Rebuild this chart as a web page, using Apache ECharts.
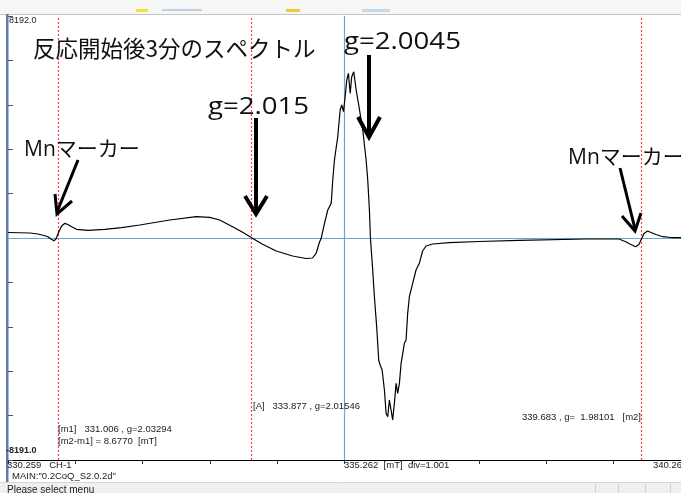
<!DOCTYPE html>
<html>
<head>
<meta charset="utf-8">
<script src="https://cdn.jsdelivr.net/npm/echarts/dist/echarts.min.js"></script>
<style>
html,body{margin:0;padding:0;background:#fff;}
#c{width:681px;height:493px;}
</style>
</head>
<body>
<div id="c"></div>
<script>
// Magnetic field (mT)
const field = [330.259, 330.586, 330.704, 330.793, 330.853, 330.897, 330.942, 330.972, 331.006, 331.056, 331.105, 331.150, 331.205, 331.279, 331.447, 331.699, 331.947, 332.219, 332.664, 333.060, 333.258, 333.406, 333.599, 333.748, 333.881, 334.045, 334.248, 334.490, 334.693, 334.787, 334.842, 334.891, 334.916, 334.965, 335.014, 335.065, 335.088, 335.113, 335.139, 335.162, 335.198, 335.222, 335.247, 335.272, 335.296, 335.321, 335.347, 335.370, 335.400, 335.436, 335.474, 335.534, 335.584, 335.608, 335.633, 335.648, 335.682, 335.707, 335.741, 335.771, 335.792, 335.822, 335.856, 335.881, 335.905, 335.930, 335.955, 335.979, 336.004, 336.030, 336.053, 336.079, 336.104, 336.153, 336.178, 336.202, 336.227, 336.276, 336.326, 336.375, 336.424, 336.475, 336.573, 336.821, 337.266, 337.860, 338.850, 339.344, 339.444, 339.508, 339.592, 339.641, 339.681, 339.716, 339.768, 339.820, 339.894, 339.998, 340.117, 340.266];
// ESR signal intensity
const intensity = [203, 185, 148, 92, 48, -37, -100, -37, 173, 443, 542, 498, 417, 321, 284, 321, 380, 480, 664, 786, 764, 664, 417, 210, 11, -232, -480, -664, -756, -738, -554, -148, -11, 542, 1033, 1280, 2140, 2878, 2941, 3738, 4723, 4908, 4660, 5214, 5830, 6077, 5339, 5952, 6136, 5461, 4908, 3985, 2878, 2140, 1033, 0, -1181, -2166, -3273, -4502, -4686, -4871, -5609, -6469, -6594, -5978, -6347, -6716, -6100, -5362, -5731, -5362, -4624, -3886, -3764, -2779, -2166, -1672, -1181, -934, -480, -295, -221, -173, -129, -85, -37, -37, -137, -221, -321, -240, -18, 166, 258, 203, 129, 48, 18, 11];
// Markers (mT)
const markerFields = [331.006, 333.877, 339.683];
const centerField = 335.262;
const fieldRange = [330.259, 340.266];
const intensityRange = [-8191, 8192];
const divisions = 10;

const chart = echarts.init(document.getElementById('c'), null, {renderer: 'canvas'});
const small = '9.5px "Liberation Sans", Arial, sans-serif';
function txt(x, y, s, font, extra) {
  return {
    type: 'text', x: x, y: y, silent: true, z: 100,
    style: Object.assign({text: s, font: font, fill: '#222', textAlign: 'left', align: 'left', textVerticalAlign: 'middle', verticalAlign: 'middle'}, extra || {})
  };
}
function arrow(shaft, head, w) {
  return [
    {type: 'polyline', silent: true, z: 100, shape: {points: shaft}, style: {stroke: '#000', lineWidth: w, fill: null}},
    {type: 'polyline', silent: true, z: 100, shape: {points: head}, style: {stroke: '#000', lineWidth: w, fill: null, lineJoin: 'miter'}}
  ];
}
const bigFont = '24px "Open Sans", "Noto Sans", sans-serif';
const mnFont = '21px "Open Sans", "Noto Sans CJK JP", sans-serif';

const graphics = [
  {type: 'rect', shape: {x: 0, y: 0, width: 681, height: 14}, style: {fill: '#f6f6f6'}, silent: true},
  {type: 'line', shape: {x1: 0, y1: 14.5, x2: 681, y2: 14.5}, style: {stroke: '#c4c4c4', lineWidth: 1}, silent: true},
  {type: 'rect', shape: {x: 136, y: 9, width: 12, height: 3}, style: {fill: '#f2e23a'}, silent: true},
  {type: 'rect', shape: {x: 286, y: 9, width: 14, height: 3}, style: {fill: '#f6c640'}, silent: true},
  {type: 'rect', shape: {x: 162, y: 9, width: 40, height: 2}, style: {fill: '#bcd0e6'}, silent: true},
  {type: 'rect', shape: {x: 362, y: 9, width: 28, height: 3}, style: {fill: '#c4d8ee'}, silent: true},
  {type: 'rect', shape: {x: 6, y: 14, width: 2.5, height: 468}, style: {fill: '#5b7fa8'}, silent: true},
  {type: 'rect', shape: {x: 0, y: 482, width: 681, height: 11}, style: {fill: '#f0f0f0'}, silent: true},
  {type: 'line', shape: {x1: 0, y1: 482.5, x2: 681, y2: 482.5}, style: {stroke: '#d6d6d6', lineWidth: 1}, silent: true},
  {type: 'line', shape: {x1: 595.5, y1: 484, x2: 595.5, y2: 493}, style: {stroke: '#cfcfcf', lineWidth: 1}, silent: true},
  {type: 'line', shape: {x1: 618.5, y1: 484, x2: 618.5, y2: 493}, style: {stroke: '#cfcfcf', lineWidth: 1}, silent: true},
  {type: 'line', shape: {x1: 645.5, y1: 484, x2: 645.5, y2: 493}, style: {stroke: '#cfcfcf', lineWidth: 1}, silent: true},
  {type: 'line', shape: {x1: 670.5, y1: 484, x2: 670.5, y2: 493}, style: {stroke: '#cfcfcf', lineWidth: 1}, silent: true},
  txt(9, 21, '8192.0', '9px "Liberation Sans", Arial, sans-serif'),
  txt(6, 451, '-8191.0', 'bold 9px "Liberation Sans", Arial, sans-serif'),
  txt(7, 465, '330.259   CH-1', small),
  txt(12, 476, 'MAIN:"0.2CoQ_S2.0.2d"', small),
  txt(344, 465, '335.262  [mT]  div=1.001', small),
  txt(653, 465, '340.266', small),
  txt(7, 490, 'Please select menu', '10px "Liberation Sans", Arial, sans-serif'),
  txt(58, 429, '[m1]   331.006 , g=2.03294', small),
  txt(58, 441, '[m2-m1] = 8.6770  [mT]', small),
  txt(253, 406, '[A]   333.877 , g=2.01546', small),
  txt(641, 417, '339.683 , g=  1.98101   [m2]', small, {textAlign: 'right', align: 'right'}),
  txt(33, 48, '反応開始後3分のスペクトル', '22.5px "Noto Sans CJK JP", sans-serif', {fill: '#111'}),
  Object.assign(txt(208, 107, 'g=2.015', bigFont, {fill: '#111'}), {scaleX: 1.15}),
  Object.assign(txt(344, 42, 'g=2.0045', bigFont, {fill: '#111'}), {scaleX: 1.15}),
  txt(24, 150, 'Mnマーカー', mnFont, {fill: '#111'}),
  txt(568, 158, 'Mnマーカー', mnFont, {fill: '#111'})
].concat(
  arrow([[78, 160], [57, 212]], [[55, 194], [57, 214], [72, 201]], 3),
  arrow([[256, 118], [256, 212]], [[245, 196], [256, 214], [267, 196]], 4),
  arrow([[369, 55], [369, 135]], [[358, 117], [369, 137], [380, 117]], 4),
  arrow([[620, 168], [635, 229]], [[622, 216], [635, 231], [641, 213]], 3)
);

chart.setOption({
  backgroundColor: '#ffffff',
  animation: false,
  grid: {left: 8, right: 0, top: 16, bottom: 33, containLabel: false},
  xAxis: [
    {type: 'value', min: fieldRange[0], max: fieldRange[1], show: false},
    {type: 'value', min: 0, max: divisions, interval: 1, position: 'bottom',
     axisLine: {show: true, onZero: false, lineStyle: {color: '#000', width: 1}},
     axisTick: {show: true, inside: false, length: 4, lineStyle: {color: '#333'}},
     axisLabel: {show: false}, splitLine: {show: false}}
  ],
  yAxis: [
    {type: 'value', min: intensityRange[0], max: intensityRange[1], show: false},
    {type: 'value', min: 0, max: divisions, interval: 1, position: 'left',
     axisLine: {show: false},
     axisTick: {show: true, inside: true, length: 5, lineStyle: {color: '#555'}},
     axisLabel: {show: false}, splitLine: {show: false}}
  ],
  series: [
    {type: 'line', name: 'markers', xAxisIndex: 0, yAxisIndex: 0, data: [], z: 2,
     markLine: {silent: true, symbol: ['none', 'none'], label: {show: false}, animation: false,
       lineStyle: {color: '#ff3b3b', type: [2, 2], width: 1.2, opacity: 1},
       emphasis: {disabled: true},
       data: markerFields.map(f => ({xAxis: f, lineStyle: {color: '#ff3b3b'}}))}},
    {type: 'line', name: 'center', xAxisIndex: 0, yAxisIndex: 0, data: [], z: 2,
     markLine: {silent: true, symbol: ['none', 'none'], label: {show: false}, animation: false,
       lineStyle: {color: '#6aa8c6', type: 'solid', width: 1.2},
       data: [{xAxis: centerField}, {yAxis: 0}]}},
    {type: 'line', name: 'spectrum', xAxisIndex: 0, yAxisIndex: 0,
     data: field.map((f, i) => [f, intensity[i]]),
     showSymbol: false, symbol: 'none',
     lineStyle: {color: '#000', width: 1.2}, z: 5}
  ],
  graphic: {elements: graphics}
});
</script>
</body>
</html>
